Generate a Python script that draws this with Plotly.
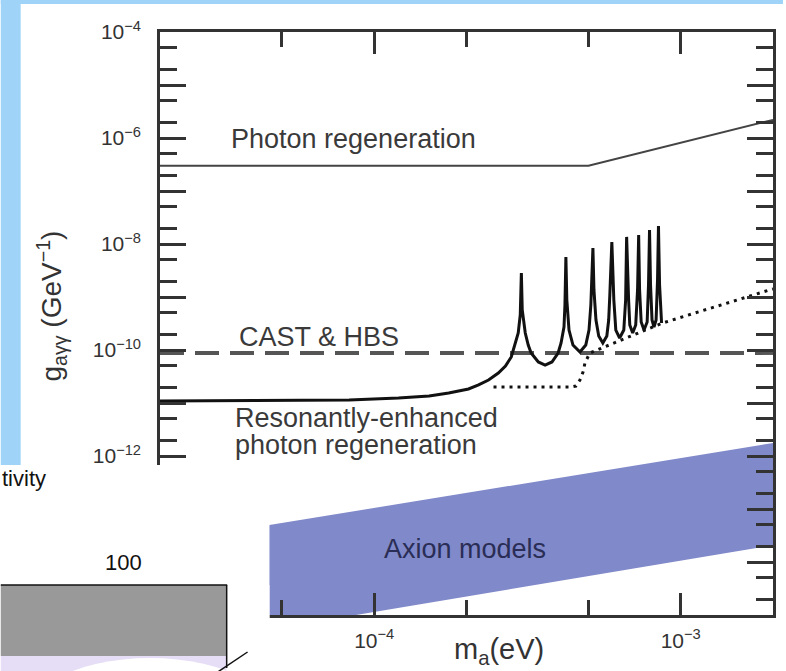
import numpy as np
import plotly.graph_objects as go

# ---------------- data ----------------
# Photon regeneration limit
photon_m = [2.0e-5, 5.0e-4, 2.0e-3]
photon_g = [3.0e-7, 3.0e-7, 2.2e-6]

# CAST & HBS limit
cast_m = [2.0e-5, 2.0e-3]
cast_g = [8.8e-11, 8.8e-11]

# Resonantly-enhanced photon regeneration (solid, with resonance peaks)
res_m = [2.00e-5, 8.28e-5, 1.20e-4, 1.51e-4, 1.75e-4, 2.03e-4, 2.19e-4, 2.36e-4,
         2.54e-4, 2.68e-4, 2.80e-4, 2.88e-4, 2.95e-4, 2.995e-4, 3.02e-4,
         3.04e-4, 3.11e-4, 3.18e-4, 3.25e-4, 3.43e-4, 3.61e-4, 3.80e-4, 3.98e-4,
         4.07e-4, 4.16e-4, 4.19e-4, 4.22e-4,
         4.25e-4, 4.32e-4, 4.45e-4, 4.69e-4, 4.90e-4, 5.02e-4, 5.09e-4, 5.17e-4,
         5.21e-4, 5.29e-4, 5.40e-4, 5.57e-4, 5.74e-4, 5.82e-4, 5.87e-4, 5.96e-4,
         6.05e-4, 6.14e-4, 6.32e-4, 6.52e-4, 6.61e-4, 6.66e-4,
         6.76e-4, 6.82e-4, 6.97e-4, 7.13e-4, 7.23e-4, 7.29e-4,
         7.34e-4, 7.43e-4, 7.59e-4, 7.77e-4, 7.85e-4, 7.91e-4,
         7.97e-4, 8.06e-4, 8.18e-4, 8.31e-4, 8.40e-4, 8.46e-4,
         8.53e-4, 8.66e-4]
res_g = [1.09e-11, 1.14e-11, 1.24e-11, 1.36e-11, 1.55e-11, 1.84e-11, 2.19e-11, 2.72e-11,
         3.68e-11, 4.99e-11, 7.38e-11, 1.24e-10, 2.09e-10, 4.57e-10, 2.84e-9,
         5.69e-10, 2.09e-10, 1.24e-10, 8.77e-11, 5.94e-11, 5.21e-11, 5.94e-11, 8.77e-11,
         1.36e-10, 2.72e-10, 7.06e-10, 5.69e-9,
         8.77e-10, 2.38e-10, 1.24e-10, 9.16e-11, 1.24e-10, 2.38e-10, 7.06e-10, 8.41e-9,
         1.36e-9, 3.68e-10, 1.84e-10, 1.36e-10, 1.84e-10, 3.68e-10, 1.09e-9, 1.09e-8,
         8.77e-10, 2.38e-10, 1.68e-10, 2.38e-10, 8.77e-10, 1.36e-8,
         8.77e-10, 2.96e-10, 2.09e-10, 2.96e-10, 1.36e-9, 1.48e-8,
         1.36e-9, 3.37e-10, 2.38e-10, 3.37e-10, 1.68e-9, 1.84e-8,
         1.68e-9, 3.68e-10, 2.72e-10, 3.68e-10, 2.09e-9, 2.19e-8,
         1.68e-9, 3.23e-10]

# Lower envelope (dotted)
dot_m = [2.45e-4, 4.38e-4, 4.55e-4, 4.69e-4, 4.80e-4, 4.87e-4, 5.05e-4, 8.72e-4, 2.0e-3]
dot_g = [2.00e-11, 2.00e-11, 2.09e-11, 2.72e-11, 3.85e-11, 5.69e-11, 8.77e-11, 3.23e-10, 1.42e-9]

# Axion models band
band_m = [2.0e-5, 2.0e-3]
band_upper = [2.3e-14, 1.76e-12]
band_lower = [2.4e-16, 2.08e-14]

# ticks
x_major = [1e-4, 1e-3]
x_major_text = ["10<sup>−4</sup>", "10<sup>−3</sup>"]
x_minor = [5e-5, 2e-4, 5e-4]
y_label_exps = [-4, -6, -8, -10, -12]
y_major = [10.0 ** e for e in y_label_exps]
y_major_text = ["10<sup>−%d</sup>" % (-e) for e in y_label_exps]
y_plain = [10.0 ** e for e in (-5, -7, -9, -11, -13, -14, -15)]
y_minor = [k * 10.0 ** e for e in range(-5, -16, -1) for k in (2, 5)]

# ---------------- geometry helpers (layout only) ----------------
W, H = 786, 671
L, R, T, B = 160, 776, 32, 615


def px(x):
    return (x - L) / (R - L)


def py(y):
    return (B - y) / (B - T)


FONT = "Liberation Sans, Arial, sans-serif"
INK = "#333333"

fig = go.Figure()

fig.add_trace(go.Scatter(
    x=band_m + band_m[::-1], y=band_upper + band_lower[::-1],
    fill="toself", fillcolor="#8089c9", mode="lines", line=dict(width=0),
    hoverinfo="skip"))
fig.add_trace(go.Scatter(x=photon_m, y=photon_g, mode="lines", yaxis="y2",
                         line=dict(color="#444444", width=2)))
fig.add_trace(go.Scatter(x=cast_m, y=cast_g, mode="lines",
                         line=dict(color="#555555", width=4, dash="24px,11px")))
fig.add_trace(go.Scatter(x=dot_m, y=dot_g, mode="lines",
                         line=dict(color="#111111", width=3, dash="3px,5px")))
fig.add_trace(go.Scatter(x=res_m, y=res_g, mode="lines",
                         line=dict(color="#111111", width=3)))

tickfont = dict(family=FONT, size=21, color=INK)

fig.update_layout(
    xaxis=dict(
        type="log", showgrid=False, zeroline=False,
        showline=True, linecolor=INK, linewidth=2.5, mirror="ticks",
        ticks="inside", tickcolor=INK, tickwidth=2.5, tickfont=tickfont,
        range=[np.log10(2e-5), np.log10(2e-3)],
        tickmode="array", tickvals=x_major, ticktext=x_major_text, ticklen=22,
        ticklabelstandoff=5,
        minor=dict(tickmode="array", tickvals=x_minor, ticks="inside", ticklen=15,
                   tickwidth=2.5, tickcolor=INK),
    ),
    yaxis=dict(
        type="log", showgrid=False, zeroline=False,
        showline=True, linecolor=INK, linewidth=2.5, mirror="ticks",
        ticks="inside", tickcolor=INK, tickwidth=2.5, tickfont=tickfont,
        range=[-15, -4],
        tickmode="array", tickvals=y_major, ticktext=y_major_text, ticklen=26,
        ticklabelstandoff=12,
        minor=dict(tickmode="array", tickvals=y_minor, ticks="inside", ticklen=17,
                   tickwidth=2.5, tickcolor=INK),
    ),
    yaxis2=dict(
        type="log", overlaying="y", anchor="x", side="left",
        showgrid=False, zeroline=False, showline=False, mirror="ticks",
        range=[-15, -4], tickmode="array", tickvals=y_plain,
        ticks="inside", ticklen=26, tickwidth=2.5, tickcolor=INK,
        showticklabels=False,
    ),
)

lab_font = dict(family=FONT, size=27, color="#3a3a3a")
ann = [
    dict(x=np.log10(3.37e-5), y=-6.019, text="Photon regeneration",
         xref="x", yref="y", xanchor="left", yanchor="middle", showarrow=False, font=lab_font),
    dict(x=np.log10(3.56e-5), y=-9.755, text="CAST &amp; HBS",
         xref="x", yref="y", xanchor="left", yanchor="middle", showarrow=False, font=lab_font),
    dict(x=np.log10(3.45e-5), y=-11.29, text="Resonantly-enhanced",
         xref="x", yref="y", xanchor="left", yanchor="middle", showarrow=False, font=lab_font),
    dict(x=np.log10(3.45e-5), y=-11.80, text="photon regeneration",
         xref="x", yref="y", xanchor="left", yanchor="middle", showarrow=False, font=lab_font),
    dict(x=-3.975, y=-13.755, text="Axion models",
         xref="x", yref="y", xanchor="left", yanchor="middle", showarrow=False,
         font=dict(family=FONT, size=27, color="#2a2d55")),
    # axis titles
    dict(x=px(501), y=py(651), text="m<sub>a</sub>(eV)", xref="paper", yref="paper",
         xanchor="center", yanchor="middle", showarrow=False,
         font=dict(family=FONT, size=29, color=INK)),
    dict(x=px(51), y=py(306), text="g<sub>aγγ</sub> (GeV<sup>−1</sup>)", textangle=-90,
         xref="paper", yref="paper", xanchor="center", yanchor="middle", showarrow=False,
         font=dict(family=FONT, size=28, color=INK)),
    # overlapping slide content
    dict(x=px(47), y=py(478), text="tivity", xref="paper", yref="paper",
         xanchor="right", yanchor="middle", showarrow=False,
         font=dict(family=FONT, size=22, color="#111111")),
    dict(x=px(123), y=py(562), text="100", xref="paper", yref="paper",
         xanchor="center", yanchor="middle", showarrow=False,
         font=dict(family=FONT, size=22, color="#111111")),
]

shapes = [
    # slide background strips
    dict(type="rect", xref="paper", yref="paper", x0=px(0), x1=px(20), y0=py(465), y1=py(0),
         fillcolor="#9fd4f8", line=dict(width=0), layer="above"),
    dict(type="rect", xref="paper", yref="paper", x0=px(0), x1=px(W), y0=py(4), y1=py(0),
         fillcolor="#9fd4f8", line=dict(width=0), layer="above"),
    # white slide area covering the lower-left part of the chart
    dict(type="rect", xref="paper", yref="paper", x0=px(0), x1=px(270), y0=py(H), y1=py(465),
         fillcolor="white", line=dict(width=0), layer="above"),
    # grey bar of the overlapping chart
    dict(type="rect", xref="paper", yref="paper", x0=px(0), x1=px(227), y0=py(656), y1=py(585),
         fillcolor="#999999", line=dict(width=0), layer="above"),
    dict(type="rect", xref="paper", yref="paper", x0=px(0), x1=px(227), y0=py(H), y1=py(656),
         fillcolor="#e6ddf6", line=dict(width=0), layer="above"),
    dict(type="circle", xref="paper", yref="paper", x0=px(10), x1=px(290), y0=py(812), y1=py(658),
         fillcolor="white", line=dict(width=0), layer="above"),
    dict(type="rect", xref="paper", yref="paper", x0=px(227), x1=px(270), y0=py(H), y1=py(585),
         fillcolor="white", line=dict(width=0), layer="above"),
    dict(type="line", xref="paper", yref="paper", x0=px(0), x1=px(227.5), y0=py(585), y1=py(585),
         line=dict(color="#111111", width=1.5), layer="above"),
    dict(type="line", xref="paper", yref="paper", x0=px(227), x1=px(227), y0=py(585), y1=py(668),
         line=dict(color="#111111", width=1.5), layer="above"),
    dict(type="line", xref="paper", yref="paper", x0=px(218), x1=px(248), y0=py(672), y1=py(652),
         line=dict(color="#111111", width=1.5), layer="above"),
]

fig.update_layout(
    width=W, height=H,
    margin=dict(l=L, r=W - R, t=T, b=H - B, pad=0),
    paper_bgcolor="white", plot_bgcolor="white",
    showlegend=False,
    annotations=ann, shapes=shapes,
    font=dict(family=FONT, color=INK),
)

fig.write_html(
    "out.html",
    config={"displayModeBar": False},
    post_script="document.body.style.margin='0';document.body.style.padding='0';"
                "document.body.style.overflow='hidden';",
)
